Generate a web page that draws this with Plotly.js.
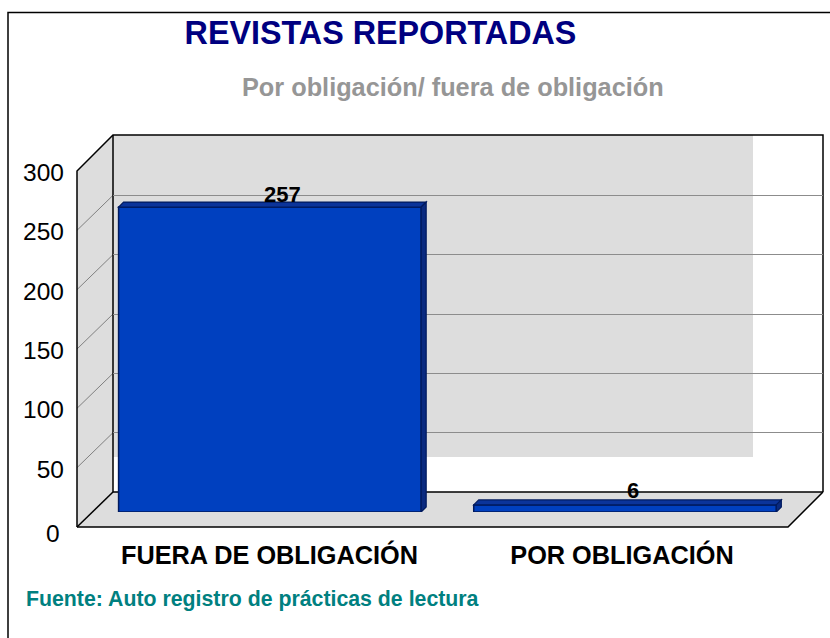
<!DOCTYPE html>
<html><head><meta charset="utf-8">
<script src="https://cdn.plot.ly/plotly-3.0.0.min.js"></script>
<style>html,body{margin:0;padding:0;background:#fff}#c{width:830px;height:638px}</style></head>
<body><div id="c"></div>
<script>
const categories = ['FUERA DE OBLIGACIÓN', 'POR OBLIGACIÓN'];
const values = [257, 6];
const valueLabels = ['257', '6'];
const tickValues = [50, 100, 150, 200, 250, 300];
const titleText = 'REVISTAS REPORTADAS';
const subtitleText = 'Por obligación/ fuera de obligación';
const sourceText = 'Fuente: Auto registro de prácticas de lectura';

const W = 830, H = 638, FONT = '"Liberation Sans", Arial, sans-serif';
const px = x => x / W, py = y => 1 - y / H;
const dom = (a, b) => [px(a), px(b)];
const domY = (bottom, top) => [py(bottom), py(top)];
const k = 356 / 300;              // pixels per unit of value
const FRONT = {l: 77, r: 788, b: 527};
const BACK = {l: 113, r: 823, b: 492, t: 135};
const GRAY = '#DDDDDD', EDGE = '#000000';

function poly(pts, fill, line, width) {
  return {type: 'path', xref: 'paper', yref: 'paper', layer: 'below',
    path: 'M' + pts.map(p => px(p[0]) + ',' + py(p[1])).join(' L') + (fill ? ' Z' : ''),
    fillcolor: fill || 'rgba(0,0,0,0)', line: {color: line || 'rgba(0,0,0,0)', width: width || 0}};
}
const shapes = [
  poly([[8, 638], [8, 12.5], [830, 12.5]], null, EDGE, 1.5),
  poly([[BACK.l, BACK.t], [753, BACK.t], [753, 457], [BACK.l, 457]], GRAY),
  poly([[FRONT.l, FRONT.b], [FRONT.r, FRONT.b], [BACK.r, BACK.b], [BACK.l, BACK.b]], GRAY),
  poly([[FRONT.l, 171], [BACK.l, BACK.t], [BACK.l, BACK.b], [FRONT.l, FRONT.b]], GRAY),
];
tickValues.slice(0, 5).forEach(v => shapes.push(
  poly([[FRONT.l, FRONT.b - v * k], [BACK.l, BACK.b - v * k]], null, '#808080', 1)));
shapes.push(
  poly([[FRONT.l, FRONT.b], [FRONT.l, 171], [BACK.l, BACK.t], [BACK.r, BACK.t], [BACK.r, BACK.b]], null, EDGE, 1.5),
  poly([[BACK.l, BACK.t], [BACK.l, BACK.b], [BACK.r, BACK.b]], null, EDGE, 1.5),
  poly([[FRONT.l, FRONT.b], [BACK.l, BACK.b]], null, EDGE, 1.5),
  poly([[FRONT.l, FRONT.b], [FRONT.r, FRONT.b], [BACK.r, BACK.b]], null, EDGE, 1.5)
);

// depth faces of the bars, in data units of the bar axes
const barWidth = 0.852, ddx = 5 / 355.15, ddy = 5 / k;
values.forEach((v, i) => {
  const a = i - barWidth / 2, b = i + barWidth / 2;
  const face = (d, fill) => shapes.push({type: 'path', xref: 'x2', yref: 'y2', layer: 'above', path: d,
    fillcolor: fill, line: {color: '#001A5E', width: 1.2}});
  face(`M${a},${v} L${b},${v} L${b + ddx},${v + ddy} L${a + ddx},${v + ddy} Z`, '#0B349A');
  face(`M${b},0 L${b},${v} L${b + ddx},${v + ddy} L${b + ddx},${ddy} Z`, '#0A2A80');
});

const hidden = {showgrid: false, zeroline: false, showline: false, showticklabels: false, ticks: ''};
const traces = [
  {type: 'scatter', mode: 'markers', x: [0], y: [values[1]], xaxis: 'x', yaxis: 'y',
    marker: {opacity: 0}, showlegend: false, hoverinfo: 'skip'},
  {type: 'bar', x: [0, 1], y: values, width: barWidth, xaxis: 'x2', yaxis: 'y2',
    marker: {color: '#0040BF', line: {color: '#001A5E', width: 1.5}}, showlegend: false, hoverinfo: 'skip'},
  {type: 'scatter', mode: 'markers', x: [0, 1], y: values, xaxis: 'x3', yaxis: 'y3',
    marker: {opacity: 0}, showlegend: false, hoverinfo: 'skip'},
];

const layout = {
  width: W, height: H, margin: {l: 0, r: 0, t: 0, b: 0},
  paper_bgcolor: '#fff', plot_bgcolor: 'rgba(0,0,0,0)', showlegend: false,
  font: {family: FONT, color: '#000'},
  title: {text: '<b>' + titleText + '</b>', x: px(380.5), xanchor: 'center', y: py(33), yanchor: 'middle',
    xref: 'paper', yref: 'paper', font: {family: FONT, size: 32.3, color: '#000080'}},
  xaxis: Object.assign({domain: dom(BACK.l, BACK.r), range: [0, 1], anchor: 'y'}, hidden),
  yaxis: Object.assign({}, hidden, {domain: domY(BACK.b, BACK.b - 300 * k), range: [0, 300], anchor: 'x',
    tickmode: 'array', tickvals: tickValues.slice(0, 5), showgrid: true, gridcolor: '#8C8C8C', gridwidth: 1}),
  xaxis2: Object.assign({domain: dom(92.3, 802.6), range: [-0.5, 1.5], anchor: 'y2'}, hidden),
  yaxis2: Object.assign({domain: domY(512, 512 - 300 * k), range: [0, 300], anchor: 'x2'}, hidden),
  xaxis3: {domain: dom(93.25, 798.25), range: [-0.5, 1.5], anchor: 'free', position: py(538),
    tickmode: 'array', tickvals: [0, 1], ticktext: categories, ticks: '', showgrid: false, zeroline: false, showline: false,
    tickfont: {family: FONT, size: 25.3, color: '#000', weight: 'bold'}},
  yaxis3: {domain: domY(FRONT.b + 1.5, 172.5), range: [0, 300], anchor: 'free', position: px(64),
    tickmode: 'array', tickvals: tickValues, ticks: '', showgrid: false, zeroline: false, showline: false,
    tickfont: {family: FONT, size: 24.5, color: '#000'}},
  bargap: 0,
  shapes: shapes,
  annotations: [
    {xref: 'paper', yref: 'paper', x: px(452.5), y: py(87), xanchor: 'center', yanchor: 'middle', showarrow: false,
      text: '<b>' + subtitleText + '</b>', font: {family: FONT, size: 25.3, color: '#969696'}},
    {xref: 'paper', yref: 'paper', x: px(24), y: py(599), xanchor: 'left', yanchor: 'middle', showarrow: false,
      text: '<b>' + sourceText + '</b>', font: {family: FONT, size: 21.3, color: '#008080'}},
    {xref: 'paper', yref: 'y3', x: px(62), y: 0, yshift: -4.5, xanchor: 'right', yanchor: 'middle', showarrow: false,
      text: '0', font: {family: FONT, size: 24.5, color: '#000'}},
    {xref: 'x2', yref: 'y2', x: 0, y: values[0], xshift: 12.5, yshift: 13, xanchor: 'center', yanchor: 'middle', showarrow: false,
      text: '<b>' + valueLabels[0] + '</b>', font: {family: FONT, size: 22, color: '#000'}},
    {xref: 'x2', yref: 'y2', x: 1, y: values[1], xshift: 7.5, yshift: 14, xanchor: 'center', yanchor: 'middle', showarrow: false,
      text: '<b>' + valueLabels[1] + '</b>', font: {family: FONT, size: 22, color: '#000'}},
  ],
};
Plotly.newPlot('c', traces, layout, {displayModeBar: false, staticPlot: true});
</script></body></html>
